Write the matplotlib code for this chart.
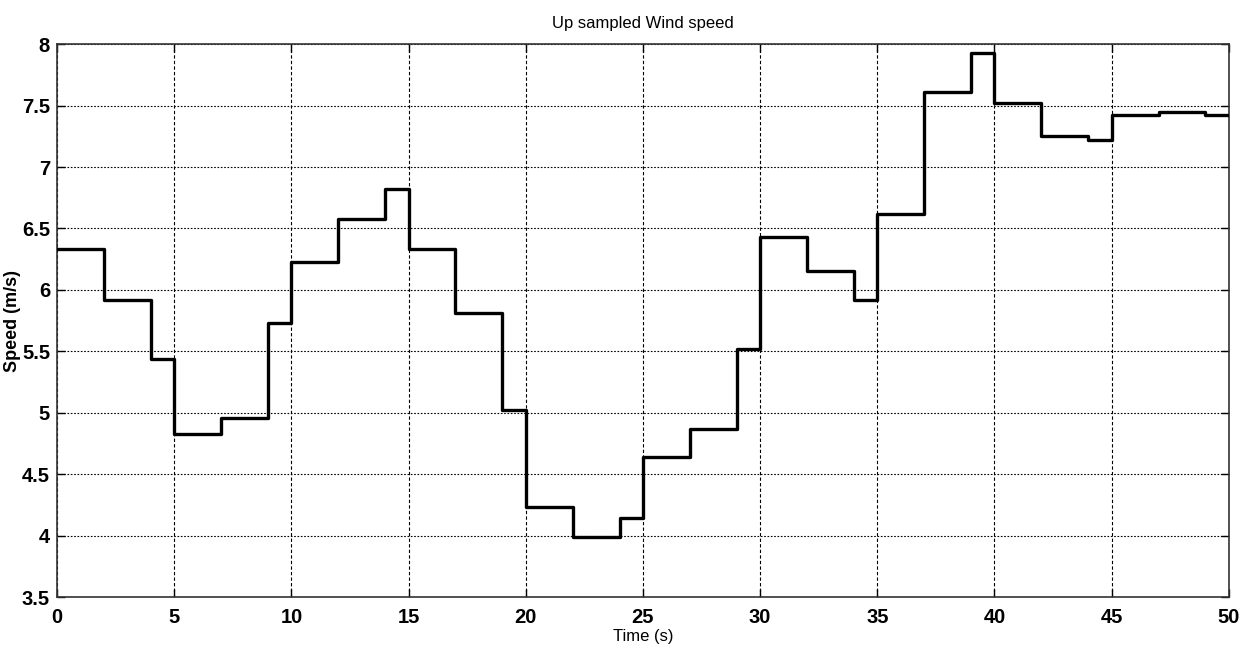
import numpy as np
import matplotlib
matplotlib.use("Agg")
import matplotlib.pyplot as plt
from matplotlib.ticker import MultipleLocator

# step edges (s) and wind speed held on each interval (m/s)
t_edges = [0, 2, 4, 5, 7, 9, 10, 12, 14, 15, 17, 19, 20, 22, 24, 25,
           27, 29, 30, 32, 34, 35, 37, 39, 40, 42, 44, 45, 47, 49, 50]
speed = [6.33, 5.92, 5.435, 4.825, 4.96, 5.73, 6.23, 6.575, 6.825, 6.33,
         5.81, 5.025, 4.23, 3.99, 4.14, 4.64, 4.87, 5.52, 6.43, 6.155,
         5.92, 6.62, 7.61, 7.93, 7.525, 7.25, 7.22, 7.425, 7.445, 7.425]

title = "Up sampled Wind speed"
xlabel = "Time (s)"
ylabel = "Speed (m/s)"

plt.rcParams['font.family'] = ['Liberation Sans', 'DejaVu Sans']

fig = plt.figure(figsize=(12.4, 6.5), dpi=100)
ax = fig.add_axes([0.046, 0.0815, 0.945, 0.8505])

# hold each value until the next edge
x = np.array(t_edges)
y = np.append(speed, speed[-1])
ax.step(x, y, where='post', color='black', linewidth=2.4, zorder=3)

ax.set_xlim(0, 50)
ax.set_ylim(3.5, 8)
ax.xaxis.set_major_locator(MultipleLocator(5))
ticks = np.arange(3.5, 8.01, 0.5)
ax.set_yticks(ticks)
ax.set_yticklabels(["{:g}".format(v) for v in ticks])

# MATLAB-ish grid: dashed verticals, dotted horizontals
ax.xaxis.grid(True, color='black', linestyle=(0, (3, 2)), linewidth=0.8)
ax.yaxis.grid(True, color='black', linestyle=(0, (1.5, 1.5)), linewidth=0.8)
ax.tick_params(direction='in', length=6, width=1, top=True, right=True,
               labelsize=14.5)
ax.tick_params(axis='x', pad=8)
ax.tick_params(axis='y', pad=5)
for lab in ax.get_xticklabels() + ax.get_yticklabels():
    lab.set_fontweight('bold')
for s in ax.spines.values():
    s.set_linewidth(1.2)
    s.set_color('#333333')

ax.set_title(title, fontsize=12, pad=12)
ax.set_xlabel(xlabel, fontsize=12, labelpad=1)
ax.set_ylabel(ylabel, fontsize=13, fontweight='bold')
ax.yaxis.set_label_coords(-0.0305, 0.5)

plt.savefig("out.png", dpi=100)
